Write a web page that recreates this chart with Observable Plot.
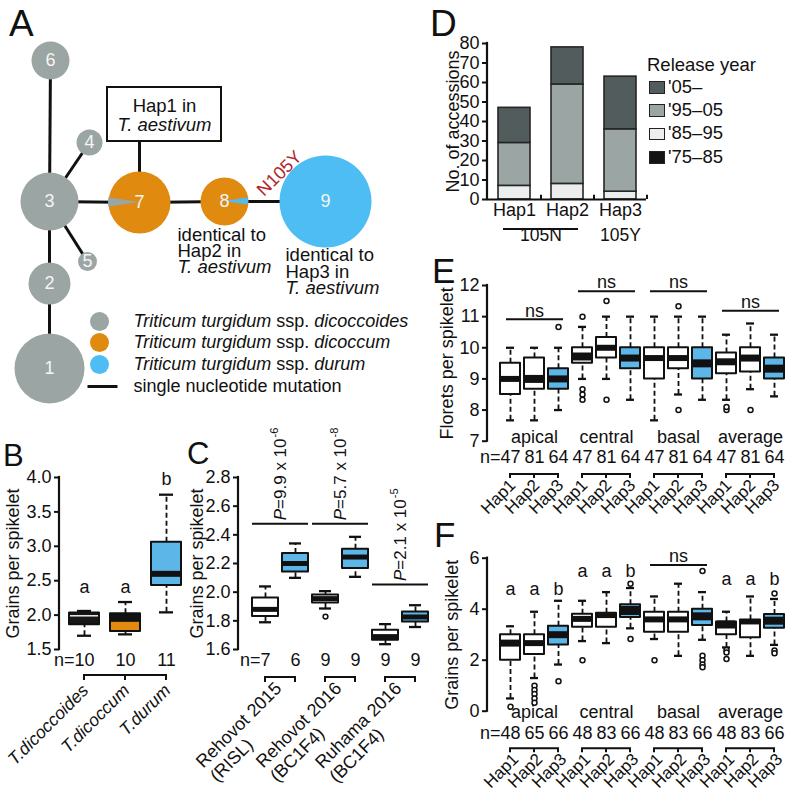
<!DOCTYPE html>
<html><head><meta charset="utf-8">
<script src="https://cdn.jsdelivr.net/npm/d3@7"></script>
<script src="https://cdn.jsdelivr.net/npm/@observablehq/plot@0.6"></script>
<style>
html,body{margin:0;padding:0;background:#fff;}
#fig{position:relative;width:793px;height:800px;overflow:hidden;background:#fff;font-family:"Liberation Sans",Arial,Helvetica,sans-serif;color:#111;}
.plab{position:absolute;line-height:1;white-space:nowrap;}
.sw{position:absolute;box-sizing:border-box;border:1.5px solid #222;}
</style></head>
<body><div id="fig"></div>
<script>
// ================= DATA =================
// Panel A: haplotype network
const nodeIds    = [1, 2, 3, 4, 5, 6, 7, 8, 9];
const nodeX      = [49, 49, 49, 89, 87, 50, 139, 224, 325];
const nodeY      = [368, 283, 201, 142, 261, 60, 202, 201, 201];
const nodeRadius = [35, 21, 29, 13, 9.5, 19, 31, 24, 46];
const nodeTaxon  = ["dicoccoides","dicoccoides","dicoccoides","dicoccoides","dicoccoides","dicoccoides","dicoccum","dicoccum","durum"];
const edgeFrom   = [6, 3, 2, 3, 3, 3, 7, 8];
const edgeTo     = [3, 2, 1, 4, 5, 7, 8, 9];
const taxa       = ["dicoccoides","dicoccum","durum"];
const taxonColor = ["#9ba5a3","#e08a10","#4dbdf3"];
const wedgeNode  = [7, 8];
const wedgeTaxon = ["dicoccoides","durum"];
const wedgeShare = [0.05, 0.045];
const wedgeDir   = [270, 90];
const mutationLabel = "N105Y";
const legendNote = "single nucleotide mutation";

// Panel B
const bSpecies = ["T.dicoccoides","T.dicoccum","T.durum"];
const bN   = [10, 10, 11];
const bLo  = [1.70, 1.72, 2.04];
const bQ1  = [1.86, 1.76, 2.43];
const bMed = [1.99, 1.96, 2.60];
const bQ3  = [2.03, 2.02, 3.06];
const bHi  = [2.06, 2.19, 3.75];
const bFill = ["#171717", "#e08a10", "#5db6e8"];
const bLetters = ["a","a","b"];
const bLetterY = [2.40, 2.40, 3.97];

// Panel C
const cSite1 = ["Rehovot 2015","Rehovot 2016","Ruhama 2016"];
const cSite2 = ["(RISL)","(BC1F4)","(BC1F4)"];
const cHaps  = ["Hap1","Hap3"];
const cN   = [7, 6, 9, 9, 9, 9];
const cLo  = [1.79, 2.10, 1.886, 2.107, 1.637, 1.757];
const cQ1  = [1.83, 2.14, 1.925, 2.165, 1.665, 1.792];
const cMed = [1.88, 2.20, 1.955, 2.245, 1.690, 1.827];
const cQ3  = [1.96, 2.27, 1.980, 2.300, 1.735, 1.862];
const cHi  = [2.04, 2.34, 2.007, 2.386, 1.777, 1.909];
const cOut = [[], [], [1.83], [], [], []];
const cPmant = ["9.9","5.7","2.1"];
const cPexp  = ["-6","-8","-5"];
const cPline = [2.474, 2.474, 2.05];

// Panel D
const dHaps = ["Hap1","Hap2","Hap3"];
const dPeriods = ["'75–85","'85–95","'95–05","'05–"];
const dColors  = ["#141414","#eceeed","#9ba6a4","#525c5c"];
const d75_85 = [0, 0, 0];
const d85_95 = [7, 8, 4];
const d95_05 = [22, 51, 32];
const d05_   = [18, 19, 27];
const dGroups = ["105N","105Y"];

// Panels E & F
const regions = ["apical","central","basal","average"];
const haps3 = ["Hap1","Hap2","Hap3"];
const eN   = [47,81,64, 47,81,64, 47,81,64, 47,81,64];
const eLo  = [7.67,7.67,8.0,  9.0,9.0,8.33,   7.67,8.5,8.33,  8.33,8.67,8.44];
const eQ1  = [8.5,8.67,8.67,  9.5,9.67,9.33,  9.0,9.33,9.0,   9.17,9.22,9.0];
const eMed = [9.0,9.0,9.0,    9.72,10.0,9.67, 9.67,9.67,9.5,  9.55,9.67,9.33];
const eQ3  = [9.5,9.67,9.33,  10.0,10.33,10.0,10.0,10.0,10.0, 9.83,10.0,9.67];
const eHi  = [10.0,10.0,10.0, 10.67,11.0,11.0,11.0,11.0,11.0, 10.42,10.78,10.42];
const eMedW= [6,8,7, 8,6,7, 6,6,8, 7,7,8];
const eOut = [[],[],[10.67],[11.0,8.67,8.5,8.33],[11.5,8.33],[],[],[11.33,8.0],[],[8.0,8.1],[8.0],[]];
const eNsRegion = ["apical","central","basal","average"];
const eNsY = [10.9, 11.8, 11.8, 11.17];

const fN   = [48,65,66, 48,83,66, 48,83,66, 48,83,66];
const fLo  = [0.5,1.3,1.83,  2.75,2.67,3.25, 2.83,2.17,2.8,  2.5,2.17,2.6];
const fQ1  = [2.0,2.22,2.6,  3.29,3.29,3.67, 3.1,3.1,3.36,   3.0,2.88,3.25];
const fMed = [2.67,2.67,3.0, 3.62,3.75,3.95, 3.6,3.6,3.72,   3.4,3.5,3.55];
const fQ3  = [3.0,3.0,3.33,  3.8,3.84,4.17,  3.88,3.88,4.0,  3.5,3.58,3.79];
const fHi  = [3.33,3.9,4.33, 4.33,4.67,4.83, 4.5,5.0,4.67,   3.9,4.5,4.4];
const fMedW= [7,6,7, 6,5,9, 6,6,8, 8,5,8];
const fOut = [[0.17],[1.0,0.83,0.67,0.5,0.33],[1.17],[2.0],[],[5.0,2.83],[2.0],[],[5.5,2.17,2.0,1.83,1.72],[2.4,2.3,2.05],[],[4.62,2.38,2.27]];
const fLetters = ["a","a","b", "a","a","b", "","","", "a","a","b"];
const fLetterY = [4.8,4.8,4.8, 5.48,5.48,5.48, 0,0,0, 5.16,5.16,5.16];
const fNsRegion = ["basal"];
const fNsY = [5.71];

// ================= HELPERS =================
const FONT = '"Liberation Sans", Arial, Helvetica, sans-serif';
const INK = "#111";
const BLUE = "#5db6e8";
const fig = document.getElementById("fig");
const measSvg = d3.select("body").append("svg").attr("width", 10).attr("height", 10)
  .style("position", "absolute").style("left", "0").style("top", "0").style("visibility", "hidden");
const measText = measSvg.append("text").attr("font-family", FONT).style("white-space", "pre");
function tw(s, size, italic = false) {
  measText.attr("font-size", size).attr("font-style", italic ? "italic" : "normal").text(s);
  return measText.node().getComputedTextLength();
}
function place(el, left, top) { el.style.position = "absolute"; el.style.left = left + "px"; el.style.top = top + "px"; fig.appendChild(el); }
const style = (fs = 18) => ({fontFamily: FONT, fontSize: fs + "px", background: "transparent", overflow: "visible", color: INK});
const gEl = () => d3.create("svg:g");
const cx = (s, k) => s.x(k) + (s.x.bandwidth ? s.x.bandwidth() / 2 : 0);
function yAxisLine(v0, v1) {
  return (I, s, v, d) => { const g = gEl();
    g.append("line").attr("x1", d.marginLeft).attr("x2", d.marginLeft).attr("y1", s.y(v0)).attr("y2", s.y(v1))
      .attr("stroke", INK).attr("stroke-width", 2.2).attr("stroke-linecap", "square");
    return g.node(); };
}
function brackets(groups, off, len) {
  return (I, s, v, d) => { const g = gEl().attr("fill", "none").attr("stroke", INK).attr("stroke-width", 2);
    const y0 = d.height - d.marginBottom + off;
    for (const keys of groups) {
      const xs = keys.map(k => cx(s, k));
      let p = `M${xs[0]},${y0 + len}V${y0}H${xs[xs.length - 1]}V${y0 + len}`;
      for (const x of xs.slice(1, -1)) p += `M${x},${y0}V${y0 + len}`;
      g.append("path").attr("d", p);
    }
    return g.node(); };
}
function spanLines(items, extL, extR) {
  return (I, s, v, d) => { const g = gEl().attr("stroke", INK).attr("stroke-width", 2);
    for (const it of items) g.append("line").attr("x1", cx(s, it.k1) - extL).attr("x2", cx(s, it.k2) + extR).attr("y1", s.y(it.y)).attr("y2", s.y(it.y));
    return g.node(); };
}
function bandX(domain, c0, step, bw) {
  const p = 1 - bw / step;
  return {type: "band", domain, range: [c0 - step / 2, c0 - step / 2 + step * domain.length], paddingInner: p, paddingOuter: p / 2, axis: null};
}
function boxMarks(rows, outs, {cap = 6, lw = 2, dot = 2.6} = {}) {
  return [
    Plot.ruleX(rows, {x: "key", y1: "q3", y2: "hi", stroke: INK, strokeWidth: 1.8, strokeDasharray: "5,3"}),
    Plot.ruleX(rows, {x: "key", y1: "lo", y2: "q1", stroke: INK, strokeWidth: 1.8, strokeDasharray: "5,3"}),
    Plot.tickY(rows, {x: "key", y: "hi", stroke: INK, strokeWidth: lw + 0.3, insetLeft: cap, insetRight: cap}),
    Plot.tickY(rows, {x: "key", y: "lo", stroke: INK, strokeWidth: lw + 0.3, insetLeft: cap, insetRight: cap}),
    Plot.barY(rows, {x: "key", y1: "q1", y2: "q3", fill: d => d.fill, stroke: INK, strokeWidth: lw, strokeLinejoin: "round"}),
    Plot.tickY(rows, {x: "key", y: "med", stroke: d => d.medC, strokeWidth: d => d.medW, insetLeft: 1, insetRight: 1}),
    Plot.dot(outs, {x: "key", y: "v", r: dot, stroke: INK, fill: "white", strokeWidth: 1.5})
  ];
}
const yAxis = (ticks, fmt) => Plot.axisY({ticks, tickFormat: fmt, tickSize: 5, tickPadding: 3, strokeWidth: 2, label: null, fontSize: 18});
const yTitle = (t, dx) => Plot.text([t], {frameAnchor: "left", rotate: -90, dx, textAnchor: "middle", fontSize: 18});

// ================= PANEL LETTERS =================
for (const [t, l, tp, sz] of [["A", 9, 5, 37], ["D", 430, 5, 37], ["B", 3, 440, 31], ["C", 187, 438, 31], ["E", 432, 253, 35], ["F", 434, 517, 35]]) {
  const el = document.createElement("div"); el.className = "plab"; el.textContent = t; el.style.fontSize = sz + "px"; place(el, l, tp);
}

// ================= PANEL A =================
{
  const colorOf = t => taxonColor[taxa.indexOf(t)];
  const nodes = nodeIds.map((id, i) => ({id, x: nodeX[i], y: nodeY[i], r: nodeRadius[i], taxon: nodeTaxon[i]}));
  const byId = new Map(nodes.map(n => [n.id, n]));
  const edges = edgeFrom.map((f, i) => ({a: byId.get(f), b: byId.get(edgeTo[i])}));
  const hapBox = {x1: 107, x2: 221, y1: 87, y2: 141, stemX: 139, node: byId.get(7)};
  const wedges = (I, s) => { const g = gEl();
    wedgeNode.forEach((id, i) => { const n = byId.get(id); const a = wedgeDir[i] * Math.PI / 180, h = Math.PI * wedgeShare[i];
      g.append("path").attr("transform", `translate(${s.x(n.x)},${s.y(n.y)})`)
        .attr("d", d3.arc()({innerRadius: 0, outerRadius: n.r, startAngle: a - h, endAngle: a + h})).attr("fill", colorOf(wedgeTaxon[i])); });
    return g.node(); };
  const notes = [
    {x: 164, y: 106, text: "Hap1 in", it: false, anchor: "middle"},
    {x: 164, y: 125, text: "T. aestivum", it: true, anchor: "middle"},
    {x: 177, y: 235, text: "identical to", it: false, anchor: "start"},
    {x: 177, y: 251, text: "Hap2 in", it: false, anchor: "start"},
    {x: 177, y: 267, text: "T. aestivum", it: true, anchor: "start"},
    {x: 285, y: 255, text: "identical to", it: false, anchor: "start"},
    {x: 285, y: 272, text: "Hap3 in", it: false, anchor: "start"},
    {x: 285, y: 288, text: "T. aestivum", it: true, anchor: "start"}
  ];
  const legY = [321, 342, 364, 386];
  const LS = 18;
  const legRows = taxa.map(t => [["Triticum turgidum", true], ["ssp.", false], [t, true]]).concat([[[legendNote, false]]]);
  const spaceW = tw("a b", LS) - tw("ab", LS);
  const segs = [];
  legRows.forEach((parts, r) => { let x = 133;
    parts.forEach(([txt, it]) => { segs.push({x, y: legY[r], text: txt, it}); x += tw(txt, LS, it) + spaceW; }); });
  const legDots = taxa.map((t, i) => ({x: 99, y: legY[i], taxon: t}));

  const A = Plot.plot({
    width: 400, height: 400, margin: 0,
    x: {domain: [0, 400], range: [0, 400], axis: null},
    y: {domain: [0, 400], range: [0, 400], axis: null},
    r: {type: "linear", domain: [0, 50], range: [0, 50]},
    color: {type: "identity"},
    style: style(18.5),
    marks: [
      Plot.link(edges, {x1: d => d.a.x, y1: d => d.a.y, x2: d => d.b.x, y2: d => d.b.y, stroke: INK, strokeWidth: 3}),
      Plot.link([hapBox], {x1: d => d.stemX, y1: d => d.y2, x2: d => d.node.x, y2: d => d.node.y, stroke: INK, strokeWidth: 3}),
      Plot.rect([hapBox], {x1: "x1", x2: "x2", y1: "y1", y2: "y2", fill: "white", stroke: INK, strokeWidth: 2}),
      Plot.dot(nodes, {x: "x", y: "y", r: "r", fill: d => colorOf(d.taxon)}),
      wedges,
      Plot.text(nodes, {x: "x", y: "y", text: d => String(d.id), fill: "#f5f5f5", fontSize: 18}),
      Plot.text(notes.filter(d => !d.it && d.anchor === "middle"), {x: "x", y: "y", text: "text"}),
      Plot.text(notes.filter(d => d.it && d.anchor === "middle"), {x: "x", y: "y", text: "text", fontStyle: "italic"}),
      Plot.text(notes.filter(d => !d.it && d.anchor === "start"), {x: "x", y: "y", text: "text", textAnchor: "start"}),
      Plot.text(notes.filter(d => d.it && d.anchor === "start"), {x: "x", y: "y", text: "text", textAnchor: "start", fontStyle: "italic"}),
      Plot.text([mutationLabel], {x: () => 279, y: () => 173, rotate: -45, fill: "#b3262b", fontSize: 18}),
      Plot.dot(legDots, {x: "x", y: "y", r: () => 9.5, fill: d => colorOf(d.taxon)}),
      Plot.link([{x1: 87, x2: 117, y: legY[3]}], {x1: "x1", x2: "x2", y1: "y", y2: "y", stroke: INK, strokeWidth: 3}),
      Plot.text(segs.filter(d => d.it), {x: "x", y: "y", text: "text", textAnchor: "start", fontStyle: "italic", fontSize: LS}),
      Plot.text(segs.filter(d => !d.it), {x: "x", y: "y", text: "text", textAnchor: "start", fontSize: LS})
    ]
  });
  place(A, 0, 0);
}

// ================= PANEL D =================
{
  const series = [d75_85, d85_95, d95_05, d05_];
  const rows = dHaps.flatMap((h, i) => series.map((arr, j) => ({hap: h, period: dPeriods[j], n: arr[i]}))).filter(d => d.n > 0);
  const D = Plot.plot({
    width: 393, height: 260, marginLeft: 87, marginTop: 43, marginBottom: 61, marginRight: 147,
    x: {type: "band", domain: dHaps, paddingInner: 0.4, paddingOuter: 0.2, axis: null},
    y: {domain: [0, 80]},
    color: {domain: dPeriods, range: dColors},
    style: style(18),
    marks: [
      Plot.barY(rows, Plot.stackY({x: "hap", y: "n", fill: "period", stroke: "#262626", strokeWidth: 1.6})),
      Plot.ruleY([0], {stroke: INK, strokeWidth: 2.2}),
      Plot.ruleX(dHaps, {x: d => d, dx: 26.5, y1: 0, y2: 2.2, stroke: INK, strokeWidth: 2}),
      yAxisLine(0, 80),
      yAxis(d3.range(0, 81, 10), d3.format("d")),
      yTitle("No. of accessions", -34),
      Plot.text(dHaps, {x: d => d, frameAnchor: "bottom", dy: 16}),
      Plot.text([dGroups[0]], {x: () => dHaps[0], frameAnchor: "bottom", dx: 26.5, dy: 41, fontSize: 17.5}),
      Plot.text([dGroups[1]], {x: () => dHaps[2], frameAnchor: "bottom", dy: 41, fontSize: 17.5}),
      (I, s, v, dm) => { const g = gEl(); const y0 = dm.height - dm.marginBottom + 30;
        g.append("line").attr("x1", cx(s, dHaps[0]) - 11).attr("x2", cx(s, dHaps[1]) + 11).attr("y1", y0).attr("y2", y0).attr("stroke", INK).attr("stroke-width", 2.2);
        return g.node(); }
    ]
  });
  place(D, 400, 0);
  const t = document.createElement("div"); t.className = "plab"; t.style.fontSize = "18.5px"; t.textContent = "Release year"; place(t, 647, 56);
  const order = [3, 2, 1, 0];
  const swTop = [81, 104.3, 127.7, 151];
  order.forEach((j, r) => {
    const sw = document.createElement("div"); sw.className = "sw"; sw.style.width = "16px"; sw.style.height = "12.5px"; sw.style.background = dColors[j]; place(sw, 649, swTop[r]);
    const lb = document.createElement("div"); lb.className = "plab"; lb.style.fontSize = "18.5px"; lb.textContent = dPeriods[j]; place(lb, 668, swTop[r] - 3.5);
  });
}

// ================= PANEL B =================
{
  const rows = bSpecies.map((k, i) => ({key: k, lo: bLo[i], q1: bQ1[i], med: bMed[i], q3: bQ3[i], hi: bHi[i], fill: bFill[i],
    medC: i === 0 ? "#eeeeee" : INK, medW: i === 0 ? 1.5 : (i === 1 ? 8 : 6)}));
  const B = Plot.plot({
    width: 190, height: 370, marginLeft: 59, marginTop: 47, marginBottom: 151, marginRight: 0,
    x: bandX(bSpecies, 84, 41, 30),
    y: {domain: [1.5, 4.0]},
    color: {type: "identity"},
    style: style(18),
    marks: [
      yAxisLine(1.5, 4.0),
      yAxis(d3.range(1.5, 4.01, 0.5), d3.format(".1f")),
      yTitle("Grains per spikelet", -46),
      ...boxMarks(rows, [], {cap: 8}),
      Plot.text(bSpecies, {x: d => d, y: (d, i) => bLetterY[i], text: (d, i) => bLetters[i]}),
      Plot.text(bSpecies, {x: d => d, frameAnchor: "bottom", dy: 16, text: (d, i) => String(bN[i])}),
      Plot.text(["n="], {x: () => bSpecies[0], frameAnchor: "bottom", dy: 16, dx: -tw("10", 18) / 2, textAnchor: "end"}),
      brackets([bSpecies], 26, 5),
      Plot.text(bSpecies, {x: d => d, frameAnchor: "bottom", dy: 42, dx: 5, rotate: -45, textAnchor: "end", fontStyle: "italic", fontSize: 17.5})
    ]
  });
  place(B, 0, 430);
}

// ================= PANEL C =================
{
  const keys = cSite1.flatMap((s, i) => cHaps.map(h => `${i}|${h}`));
  const rows = keys.map((k, i) => ({key: k, lo: cLo[i], q1: cQ1[i], med: cMed[i], q3: cQ3[i], hi: cHi[i],
    fill: k.endsWith("Hap3") ? BLUE : "white", medC: INK, medW: 5}));
  const outs = keys.flatMap((k, i) => cOut[i].map(v => ({key: k, v})));
  const pRows = cSite1.map((s, i) => ({k1: `${i}|Hap1`, k2: `${i}|Hap3`, y: cPline[i], m: cPmant[i], e: cPexp[i]}));
  const wP = tw("P", 17, true), wM = tw("=9.9 x 10", 17);
  const labelMarks = [];
  cSite1.forEach((s, i) => {
    const L1 = tw(s, 18), c = Math.SQRT1_2;
    labelMarks.push(Plot.text([s], {x: () => `${i}|Hap1`, frameAnchor: "bottom", dx: 17, dy: 40, rotate: -45, textAnchor: "end"}));
    labelMarks.push(Plot.text([cSite2[i]], {x: () => `${i}|Hap1`, frameAnchor: "bottom", dx: 17 - c * L1 + c * 20, dy: 40 + c * L1 + c * 20, rotate: -45, textAnchor: "start"}));
  });
  const C = Plot.plot({
    width: 250, height: 370, marginLeft: 58, marginTop: 47, marginBottom: 151, marginRight: 0,
    x: bandX(keys, 85, 30, 26),
    y: {domain: [1.6, 2.8]},
    color: {type: "identity"},
    style: style(18),
    marks: [
      yAxisLine(1.6, 2.8),
      yAxis(d3.range(1.6, 2.81, 0.2), d3.format(".1f")),
      yTitle("Grains per spikelet", -41),
      ...boxMarks(rows, outs, {cap: 7, dot: 2.4}),
      spanLines(pRows, 13, 13),
      Plot.text(pRows, {x: "k1", y: "y", dx: 15, dy: -4, rotate: -90, textAnchor: "start", text: () => "P", fontStyle: "italic", fontSize: 17}),
      Plot.text(pRows, {x: "k1", y: "y", dx: 15, dy: -4 - wP, rotate: -90, textAnchor: "start", text: d => `=${d.m} x 10`, fontSize: 17}),
      Plot.text(pRows, {x: "k1", y: "y", dx: 9, dy: -5 - wP - wM, rotate: -90, textAnchor: "start", text: "e", fontSize: 11}),
      Plot.text(keys, {x: d => d, frameAnchor: "bottom", dy: 16, text: (d, i) => String(cN[i])}),
      Plot.text(["n="], {x: () => keys[0], frameAnchor: "bottom", dy: 16, dx: -tw("7", 18) / 2, textAnchor: "end"}),
      brackets(cSite1.map((s, i) => cHaps.map(h => `${i}|${h}`)), 28, 5),
      ...labelMarks
    ]
  });
  place(C, 180, 430);
}

// ================= PANELS E & F =================
function hapBoxPanel({lo, q1, med, q3, hi, medW, out, n, domain, ticks, title, titleDx, marginTop, groupDy, nDy, brDy, labDy, labDx, extra}) {
  const keys = regions.flatMap(r => haps3.map(h => `${r}|${h}`));
  const rows = keys.map((k, i) => ({key: k, lo: lo[i], q1: q1[i], med: med[i], q3: q3[i], hi: hi[i],
    fill: k.endsWith("Hap3") ? BLUE : "white", medC: INK, medW: medW[i]}));
  const outs = keys.flatMap((k, i) => out[i].map(v => ({key: k, v})));
  return Plot.plot({
    width: 393, height: 290, marginLeft: 87, marginTop, marginBottom: 89.3, marginRight: 7,
    x: bandX(keys, 110, 24, 20),
    y: {domain},
    color: {type: "identity"},
    style: style(18),
    marks: [
      yAxisLine(domain[0], domain[1]),
      yAxis(ticks, d3.format("d")),
      yTitle(title, titleDx),
      ...boxMarks(rows, outs, {cap: 6, dot: 2.5}),
      ...extra(keys),
      Plot.text(regions, {x: r => `${r}|Hap2`, frameAnchor: "bottom", dy: groupDy}),
      Plot.text(keys, {x: d => d, frameAnchor: "bottom", dy: nDy, text: (d, i) => String(n[i])}),
      Plot.text(["n="], {x: () => keys[0], frameAnchor: "bottom", dy: nDy, dx: -tw("47", 18) / 2, textAnchor: "end"}),
      brackets(regions.map(r => haps3.map(h => `${r}|${h}`)), brDy, 4),
      Plot.text(keys, {x: d => d, frameAnchor: "bottom", dy: labDy, dx: labDx, rotate: -45, textAnchor: "end", text: d => d.split("|")[1], fontSize: 17})
    ]
  });
}
{
  const ns = eNsRegion.map((r, i) => ({k1: `${r}|Hap1`, k2: `${r}|Hap3`, mid: `${r}|Hap2`, y: eNsY[i]}));
  const E = hapBoxPanel({lo: eLo, q1: eQ1, med: eMed, q3: eQ3, hi: eHi, medW: eMedW, out: eOut, n: eN,
    domain: [7, 12], ticks: [7, 8, 9, 10, 11, 12], title: "Florets per spikelet", titleDx: -40, marginTop: 45,
    groupDy: 1.5, nDy: 22, brDy: 33.3, labDy: 45, labDx: 6,
    extra: () => [spanLines(ns, 4, 5), Plot.text(ns, {x: "mid", y: "y", dy: -9, text: () => "ns"})]});
  place(E, 400, 240);
}
{
  const ns = fNsRegion.map((r, i) => ({k1: `${r}|Hap1`, k2: `${r}|Hap3`, mid: `${r}|Hap2`, y: fNsY[i]}));
  const F = hapBoxPanel({lo: fLo, q1: fQ1, med: fMed, q3: fQ3, hi: fHi, medW: fMedW, out: fOut, n: fN,
    domain: [0, 6], ticks: [0, 2, 4, 6], title: "Grains per spikelet", titleDx: -35, marginTop: 47.7,
    groupDy: 6.5, nDy: 27.6, brDy: 37.6, labDy: 49, labDx: 9,
    extra: keys => {
      const lets = keys.map((k, i) => ({k, t: fLetters[i], y: fLetterY[i]})).filter(d => d.t);
      return [spanLines(ns, 4, 5), Plot.text(ns, {x: "mid", y: "y", dy: -9, text: () => "ns"}),
        Plot.text(lets, {x: "k", y: "y", text: "t"})];
    }});
  place(F, 400, 510);
}
measSvg.remove();
</script></body></html>
